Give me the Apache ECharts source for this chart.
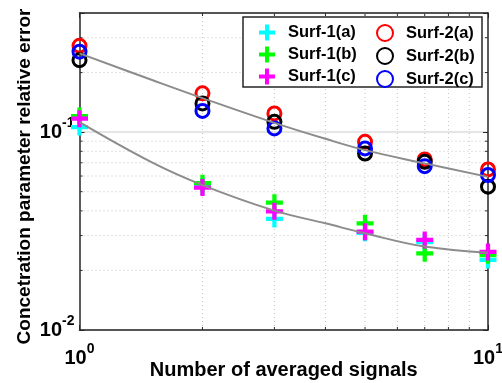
<!DOCTYPE html>
<html><head><meta charset="utf-8">
<script src="https://cdn.jsdelivr.net/npm/echarts@6/dist/echarts.min.js"></script>
<style>html,body{margin:0;padding:0;background:#fff}#c{width:502px;height:383px}</style>
</head><body><div id="c"></div>
<script>
// ---- data ----
const xValues = [1, 2, 3, 5, 7, 10];
const surf1a = [0.106, 0.0533, 0.0364, 0.0310, 0.0278, 0.0226];
const surf1b = [0.1205, 0.0552, 0.0440, 0.0346, 0.0244, 0.0239];
const surf1c = [0.117, 0.0525, 0.0398, 0.0314, 0.0285, 0.0248];
const surf2a = [0.273, 0.157, 0.1243, 0.0893, 0.0728, 0.0648];
const surf2b = [0.231, 0.1396, 0.1127, 0.0780, 0.0708, 0.0530];
const surf2c = [0.255, 0.128, 0.1044, 0.0827, 0.0673, 0.0607];
const fitX = [1, 1.5, 2, 3, 4, 5, 7, 10];
const fitSurf2 = [0.250, 0.184, 0.1486, 0.1114, 0.0925, 0.0811, 0.0695, 0.0594];
const fitSurf1 = [0.1123, 0.0705, 0.0540, 0.0401, 0.0346, 0.0308, 0.0264, 0.0246];
const seriesNames = ['Surf-1(a)', 'Surf-1(b)', 'Surf-1(c)', 'Surf-2(a)', 'Surf-2(b)', 'Surf-2(c)'];
const xRange = [1, 10];
const yRange = [0.01, 0.4];
const xMinorTicks = [2, 3, 4, 5, 6, 7, 8, 9];
const yMinorTicks = [0.02, 0.03, 0.04, 0.05, 0.06, 0.07, 0.08, 0.09, 0.2, 0.3];
const xAxisTitle = 'Number of averaged signals';
const yAxisTitle = 'Concetration parameter relative error';

// ---- styling ----
const FONT = 'Liberation Sans, Arial, Helvetica, sans-serif';
const AX = '#262626';
const PLUS = 'path://M3.75,0H6.25V3.75H10V6.25H6.25V10H3.75V6.25H0V3.75H3.75Z';
const colors = ['#00FFFF', '#00FF00', '#FF00FF', '#FF0000', '#000000', '#0000FF'];
const allY = [surf1a, surf1b, surf1c, surf2a, surf2b, surf2c];

function logLabel(v) {
  const e = Math.log10(v), r = Math.round(e);
  if (Math.abs(e - r) > 1e-6) return '';
  return '{b|10}{s|' + r + '}';
}
const labelRich = {
  b: {fontSize: 20, fontWeight: 'bold', fontFamily: FONT, color: '#000'},
  s: {fontSize: 14, fontWeight: 'bold', fontFamily: FONT, color: '#000', padding: [0, 0, 18, 0]}
};

const pts = ys => xValues.map((x, i) => [x, ys[i]]);

const series = [];
series.push({
  type: 'custom', coordinateSystem: 'cartesian2d', silent: true, z: 1, clip: false,
  data: xMinorTicks.map(v => [v, yRange[0]]),
  renderItem: (params, api) => {
    const v = api.value(0);
    const p0 = api.coord([v, yRange[0]]), p1 = api.coord([v, yRange[1]]);
    return {type: 'group', children: [
      {type: 'line', shape: {x1: p0[0], y1: p0[1], x2: p1[0], y2: p1[1]}, style: {stroke: '#c4c4c4', lineWidth: 1, lineDash: [1, 3]}},
      {type: 'line', shape: {x1: p0[0], y1: p0[1], x2: p0[0], y2: p0[1] - 3}, style: {stroke: AX, lineWidth: 1}},
      {type: 'line', shape: {x1: p1[0], y1: p1[1], x2: p1[0], y2: p1[1] + 3}, style: {stroke: AX, lineWidth: 1}}
    ]};
  }
});
series.push({
  type: 'custom', coordinateSystem: 'cartesian2d', silent: true, z: 1, clip: false,
  data: yMinorTicks.map(v => [xRange[0], v]),
  renderItem: (params, api) => {
    const v = api.value(1);
    const p0 = api.coord([xRange[0], v]), p1 = api.coord([xRange[1], v]);
    return {type: 'group', children: [
      {type: 'line', shape: {x1: p0[0], y1: p0[1], x2: p1[0], y2: p1[1]}, style: {stroke: '#c4c4c4', lineWidth: 1, lineDash: [1, 3]}},
      {type: 'line', shape: {x1: p0[0], y1: p0[1], x2: p0[0] + 3, y2: p0[1]}, style: {stroke: AX, lineWidth: 1}},
      {type: 'line', shape: {x1: p1[0], y1: p1[1], x2: p1[0] - 3, y2: p1[1]}, style: {stroke: AX, lineWidth: 1}}
    ]};
  }
});
seriesNames.forEach((name, i) => {
  const isPlus = i < 3;
  series.push({
    name, type: 'scatter', data: pts(allY[i]), z: 3,
    symbol: isPlus ? PLUS : 'circle',
    symbolSize: isPlus ? 17 : 13,
    itemStyle: isPlus ? {color: colors[i], opacity: 1}
                      : {color: 'rgba(0,0,0,0)', borderColor: colors[i], borderWidth: 3, opacity: 1},
    emphasis: {disabled: true}
  });
});
[fitSurf1, fitSurf2].forEach(f => {
  series.push({
    type: 'line', data: fitX.map((x, i) => [x, f[i]]), smooth: 0.4, showSymbol: false, z: 4,
    lineStyle: {color: '#8c8c8c', width: 2}, silent: true
  });
});

const legendCommon = {
  orient: 'vertical', padding: 0, itemGap: 5, itemWidth: 32, itemHeight: 16, z: 20,
  selectedMode: false,
  textStyle: {fontSize: 16.5, fontWeight: 'bold', fontFamily: FONT, color: '#000', lineHeight: 16}
};

const option = {
  backgroundColor: '#fff',
  animation: false,
  grid: {left: 79.5, right: 14, top: 13, bottom: 53, containLabel: false, outerBoundsMode: 'none'},
  xAxis: [
    {type: 'log', logBase: 10, min: xRange[0], max: xRange[1], position: 'bottom',
     name: xAxisTitle, nameLocation: 'middle', nameGap: 30, nameMoveOverlap: false,
     nameTextStyle: {fontSize: 20, fontWeight: 'bold', fontFamily: FONT, color: '#000'},
     axisLine: {lineStyle: {color: AX, width: 1.5}},
     axisTick: {inside: true, length: 5, lineStyle: {color: AX}},
     axisLabel: {formatter: logLabel, rich: labelRich, margin: 12, showMinLabel: true, showMaxLabel: true},
     splitLine: {show: false}},
    {type: 'log', logBase: 10, min: xRange[0], max: xRange[1], position: 'top',
     axisLine: {lineStyle: {color: AX, width: 1.5}},
     axisTick: {inside: true, length: 5, lineStyle: {color: AX}},
     axisLabel: {show: false}, splitLine: {show: false}}
  ],
  yAxis: [
    {type: 'log', logBase: 10, min: yRange[0], max: yRange[1], position: 'left',
     name: yAxisTitle, nameLocation: 'middle', nameGap: 45, nameRotate: 90, nameMoveOverlap: false,
     nameTextStyle: {fontSize: 19, fontWeight: 'bold', fontFamily: FONT, color: '#000', padding: [0, 10, 0, 0]},
     axisLine: {show: true, lineStyle: {color: AX, width: 1.5}},
     axisTick: {show: true, inside: true, length: 5, lineStyle: {color: AX}},
     axisLabel: {formatter: logLabel, rich: labelRich, margin: 5, showMinLabel: true, showMaxLabel: true},
     splitLine: {show: true, lineStyle: {color: '#dcdcdc', width: 1.5}}},
    {type: 'log', logBase: 10, min: yRange[0], max: yRange[1], position: 'right',
     axisLine: {show: true, lineStyle: {color: AX, width: 1.5}},
     axisTick: {show: true, inside: true, length: 5, lineStyle: {color: AX}},
     axisLabel: {show: false}, splitLine: {show: false}}
  ],
  legend: [
    Object.assign({data: seriesNames.slice(0, 3), left: 259, top: 24}, legendCommon),
    Object.assign({data: seriesNames.slice(3), left: 376, top: 24}, legendCommon)
  ],
  graphic: [{
    type: 'rect', z: 15, silent: true,
    shape: {x: 243, y: 17, width: 239, height: 70},
    style: {fill: '#fff', stroke: AX, lineWidth: 1.5}
  }],
  series
};
const chart = echarts.init(document.getElementById('c'), null, {renderer: 'canvas'});
chart.setOption(option);
</script></body></html>
